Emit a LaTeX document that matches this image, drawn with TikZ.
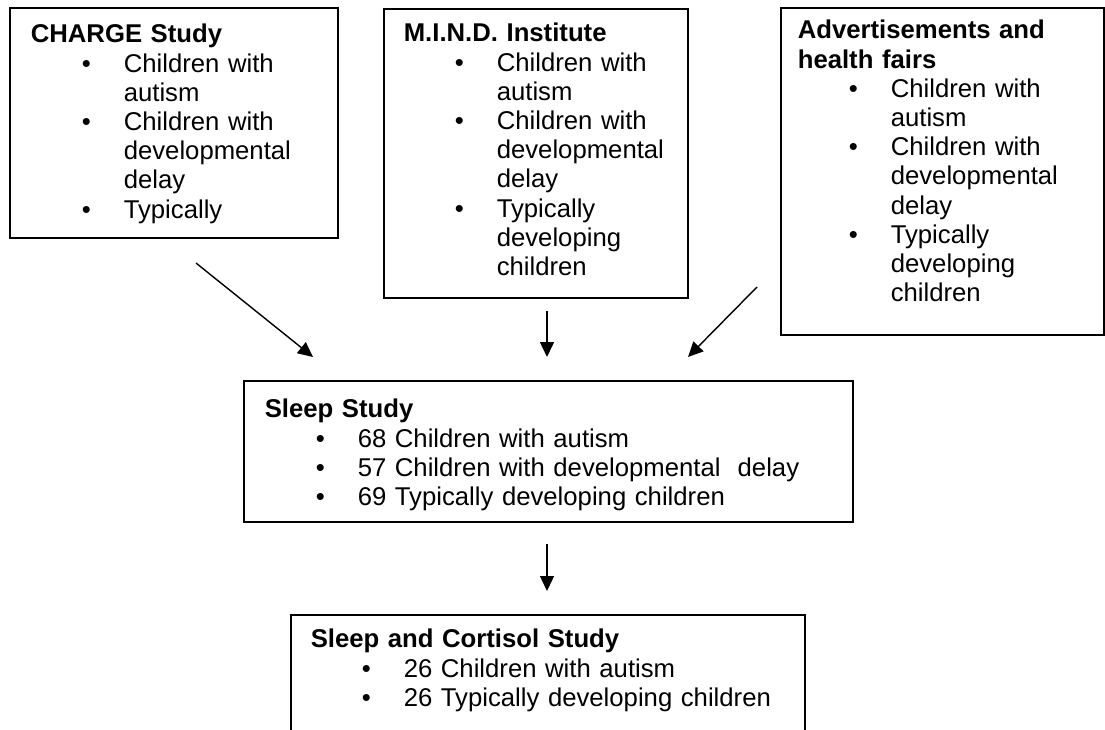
\documentclass[tikz,border=0pt]{standalone}
\usepackage{fontspec}
\setmainfont{Liberation Sans}
\usetikzlibrary{arrows.meta}

% bullet line with hanging indent
\newcommand{\bul}[1]{\par\hangindent=93pt\hangafter=0\noindent\llap{\makebox[42pt][l]{\textbullet}}#1\par}

\begin{document}
\begin{tikzpicture}[x=1pt, y=-1pt,
    studybox/.style={draw, line width=1.6pt, anchor=north west, inner ysep=0pt, align=left,
                     font=\fontsize{25.7}{29.2}\selectfont},
    link/.style={-{Triangle[length=15pt,width=14pt]}, line width=1.4pt}]
  \clip (0,0) rectangle (1105,729);

  \node[studybox, text width=286pt, inner xsep=21pt, text height=35pt, text depth=195pt] (charge) at (9,7)
    {\textbf{CHARGE Study}
     \bul{Children with\newline autism}
     \bul{Children with\newline developmental\newline delay}
     \bul{Typically}};
  \node[studybox, text width=264pt, inner xsep=20pt, text height=33pt, text depth=256pt] (mind) at (383,8)
    {\textbf{M.I.N.D. Institute}
     \bul{Children with\newline autism}
     \bul{Children with\newline developmental\newline delay}
     \bul{Typically\newline developing\newline children}};
  \node[studybox, text width=289pt, inner xsep=17pt, text height=31pt, text depth=296pt] (adverts) at (780,7)
    {\textbf{Advertisements and\\health fairs}
     \bul{Children with\newline autism}
     \bul{Children with\newline developmental\newline delay}
     \bul{Typically\newline developing\newline children}};
  \node[studybox, text width=567pt, inner xsep=21pt, text height=37pt, text depth=104pt] (sleep) at (243,380)
    {\textbf{Sleep Study}
     \bul{68 Children with autism}
     \bul{57 Children with developmental~ delay}
     \bul{69 Typically developing children}};
  \node[studybox, text width=474pt, inner xsep=20pt, text height=33pt, text depth=110pt] (cortisol) at (290,614)
    {\textbf{Sleep and Cortisol Study}
     \bul{26 Children with autism}
     \bul{26 Typically developing children}};

  \coordinate (c1) at (196,263);
  \coordinate (s1) at (313,357);
  \coordinate (c2) at (547,311);
  \coordinate (s2) at (547,357);
  \coordinate (c3) at (757,287);
  \coordinate (s3) at (688,357);
  \coordinate (c4) at (547,544);
  \coordinate (s4) at (547,591);

  \draw[link] (c1) -- (s1);
  \draw[link] (c2) -- (s2);
  \draw[link] (c3) -- (s3);
  \draw[link] (c4) -- (s4);
\end{tikzpicture}
\end{document}
